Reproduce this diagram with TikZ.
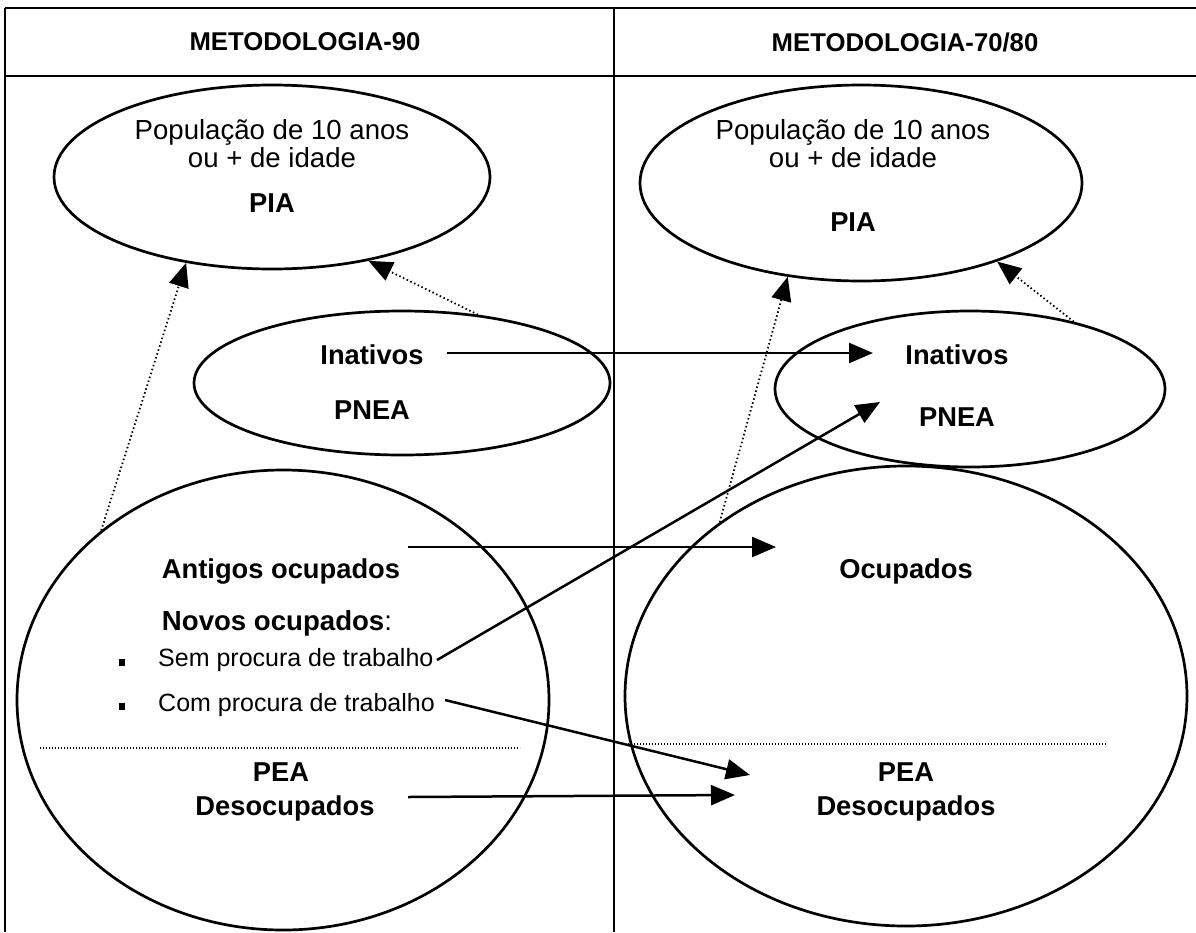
\documentclass[tikz,border=0pt]{standalone}
\usepackage{fontspec}
\setmainfont{Liberation Sans}
\usetikzlibrary{shapes.geometric,arrows.meta}
\begin{document}
\begin{tikzpicture}[x=1pt,y=-1pt,
  frame/.style={line width=1.6pt},
  ell/.style={draw,ellipse,line width=2.7pt,inner sep=0pt},
  hdr/.style={font=\fontsize{25.7}{25.7}\selectfont\bfseries},
  reg/.style={font=\fontsize{27.6}{27.6}\selectfont,inner sep=0pt},
  bld/.style={font=\fontsize{27.3}{27.3}\selectfont\bfseries,inner sep=0pt},
  itm/.style={font=\fontsize{25}{25}\selectfont,inner sep=0pt,anchor=west},
  blt/.style={fill,minimum width=6pt,minimum height=7pt,inner sep=0pt},
  arr/.style={line width=2.5pt,-{Triangle[length=24pt,width=20pt]}},
  darr/.style={line width=1.8pt,dash pattern=on 1.5pt off 2.6pt,-{Triangle[length=24pt,width=20pt]}},
  sep/.style={line width=1.4pt,dash pattern=on 1.2pt off 1.8pt}]
\useasboundingbox (0,0) rectangle (1196,932);
% frame
\draw[frame] (5,8) -- (1196,8);
\draw[frame] (5,76) -- (1196,76);
\draw[frame] (5,8) -- (5,932);
\draw[frame] (614,8) -- (614,932);
\node[hdr] (h1) at (305,42) {METODOLOGIA-90};
\node[hdr] (h2) at (905,42) {METODOLOGIA-70/80};
% ellipses
\node[ell,minimum width=436pt,minimum height=184pt] (piaL) at (272,177) {};
\node[ell,minimum width=442pt,minimum height=196pt] (piaR) at (861,183) {};
\node[ell,minimum width=416pt,minimum height=144pt] (pneaL) at (402,383) {};
\node[ell,minimum width=390pt,minimum height=156pt] (pneaR) at (970,389) {};
\node[ell,minimum width=532pt,minimum height=460pt] (bigL) at (283,700) {};
\node[ell,minimum width=562pt,minimum height=460pt] (bigR) at (906,696) {};
% texts left
\node[reg] (tL1) at (272,132) {População de 10 anos};
\node[reg] (tL2) at (272,158) {ou + de idade};
\node[bld] (tL3) at (272,203) {PIA};
\node[bld] (inL) at (372,355) {Inativos};
\node[bld] (pnL) at (372,410) {PNEA};
\node[bld] (antL) at (281,571) {Antigos ocupados};
\node[reg] (novL) at (277,623) {\textbf{Novos ocupados}:};
\node[blt] (b1) at (122,662) {};
\node[blt] (b2) at (122,706) {};
\node[itm] (semL) at (158,660) {Sem procura de trabalho};
\node[itm] (comL) at (158,705) {Com procura de trabalho};
\node[bld] (peaL) at (281,772) {PEA};
\node[bld] (desL) at (285,808) {Desocupados};
% texts right
\node[reg] (tR1) at (853,132) {População de 10 anos};
\node[reg] (tR2) at (853,158) {ou + de idade};
\node[bld] (tR3) at (853,222) {PIA};
\node[bld] (inR) at (957,355) {Inativos};
\node[bld] (pnR) at (957,417) {PNEA};
\node[bld] (ocR) at (906,571) {Ocupados};
\node[bld] (peaR) at (906,772) {PEA};
\node[bld] (desR) at (906,808) {Desocupados};
% separators
\draw[sep] (40,748) -- (520,748);
\draw[sep] (625,744) -- (1107,744);
% solid arrows
\coordinate (s1) at (447,353); \coordinate (e1) at (873,353);
\coordinate (s2) at (408,547); \coordinate (e2) at (776,547);
\coordinate (s3) at (437,660); \coordinate (e3) at (880,402);
\coordinate (s4) at (445,700); \coordinate (e4) at (750,775);
\coordinate (s5) at (408,797); \coordinate (e5) at (735,795);
\draw[arr] (s1) -- (e1);
\draw[arr] (s2) -- (e2);
\draw[arr] (s3) -- (e3);
\draw[arr] (s4) -- (e4);
\draw[arr] (s5) -- (e5);
% dotted arrows
\draw[darr] (bigL.137) -- (piaL.225);
\draw[darr] (pneaL.42) -- (piaL.319);
\draw[darr] (bigR.137) -- (piaR.232);
\draw[darr] (pneaR.33) -- (piaR.330);
\end{tikzpicture}
\end{document}
